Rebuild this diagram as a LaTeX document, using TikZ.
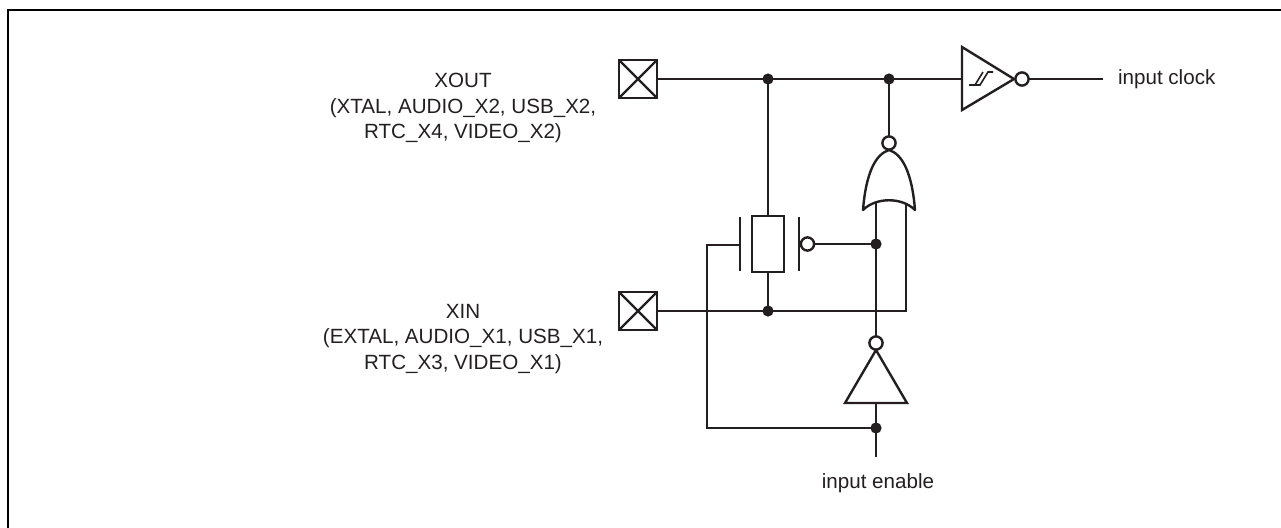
\documentclass[tikz,border=0pt]{standalone}
\usepackage{fontspec}
\setmainfont{Liberation Sans}
\usepackage{tikz}
\usetikzlibrary{positioning, calc}
\definecolor{wirecolor}{RGB}{35, 31, 32}

\tikzset{
    wire/.style={line width=1.2pt, draw=wirecolor, line join=miter},
    gatebody/.style={wire, fill=white, line join=round},
    pad/.style={draw=wirecolor, line width=1.2pt, minimum size=19pt, inner sep=0pt,
        path picture={\draw[wirecolor, line width=1.1pt]
            (path picture bounding box.north west) -- (path picture bounding box.south east)
            (path picture bounding box.south west) -- (path picture bounding box.north east);}},
    junction/.style={circle, fill=wirecolor, inner sep=0pt, minimum size=5.6pt},
    bubble/.style={circle, draw=wirecolor, fill=white, line width=1.2pt, inner sep=0pt, minimum size=6.6pt},
    pinlabel/.style={font=\fontsize{10.3}{12.6}\selectfont, text=wirecolor, align=center}
}

\begin{document}
\begin{tikzpicture}[x=0.5pt, y=-0.5pt]
    \useasboundingbox (0,0) rectangle (1281,527);

    % Frame
    \draw[line width=1.4pt] (8,540) -- (8,10) -- (1290,10);

    % Pads and labels
    \node[pad] (xout) at (638,79) {};
    \node[pad] (xin) at (638,311) {};
    \node[pinlabel] (xoutlbl) at (463,108) {XOUT\\(XTAL, AUDIO\_X2, USB\_X2,\\RTC\_X4, VIDEO\_X2)};
    \node[pinlabel] (xinlbl) at (463,339) {XIN\\(EXTAL, AUDIO\_X1, USB\_X1,\\RTC\_X3, VIDEO\_X1)};

    % Crystal
    \node[draw=wirecolor, line width=1.2pt, minimum width=16pt, minimum height=28pt, inner sep=0pt] (xtal) at (768,244) {};
    \draw[wire] (740,217) -- (740,271);
    \draw[wire] (799,217) -- (799,271);
    \coordinate (plate) at (740,245);

    % Junctions
    \node[junction] (jtopa) at (768,79) {};
    \node[junction] (jtopb) at (889,79) {};
    \node[junction] (jfb) at (876,244) {};
    \node[junction] (jxin) at (768,311) {};
    \node[junction] (jen) at (876,428) {};

    % Gate pins
    \coordinate (schin) at (962,79);
    \coordinate (clk) at (1103,79);
    \coordinate (norinl) at (876,200);
    \coordinate (norinr) at (906,200);
    \coordinate (xinr) at (906,311);
    \coordinate (invin) at (876,403);
    \coordinate (en) at (876,457);

    % Wires
    \draw[wire] (xout.east) -- (jtopa.center) -- (jtopb.center) -- (schin);
    \draw[wire] (jtopa.center) -- (xtal.north);
    \draw[wire] (xtal.south) -- (jxin.center);
    \draw[wire] (xin.east) -- (jxin.center) -- (xinr) -- (norinr);
    \draw[wire] (norinl) -- (jfb.center) -- (876,340);
    \draw[wire] (808,244) -- (jfb.center);
    \draw[wire] (plate) -- ++(-33,0) |- (jen.center);
    \draw[wire] (invin) -- (jen.center) -- (en);
    \draw[wire] (jtopb.center) -- (889,140);
    \draw[wire] (1022,79) -- (clk);

    % Schmitt inverter
    \draw[gatebody, line join=miter] (962,47) -- (1014,79) -- (962,110) -- cycle;
    \draw[wirecolor, line width=0.8pt] (969,85) -- (980,85) -- (988,72) -- (993,72);
    \draw[wirecolor, line width=0.8pt] (975,85) -- (983,72);
    \node[bubble] (schout) at (1022,79) {};

    % NOR gate
    \draw[gatebody] (863,210) .. controls (866,172) and (876,154) .. (889,150)
        .. controls (902,154) and (912,172) .. (915,210)
        .. controls (902,197) and (876,197) .. cycle;
    \node[bubble] (norout) at (889,143) {};

    % Enable inverter
    \draw[gatebody, line join=miter] (876,350) -- (907,403) -- (845,403) -- cycle;
    \node[bubble] (invout) at (876,343) {};

    % Feedback bubble
    \node[bubble] (fb) at (807.5,244) {};

    % Signal labels
    \node[pinlabel, anchor=west] (clklbl) at (1111,79) {input clock};
    \node[pinlabel] (enlbl) at (878,483) {input enable};
\end{tikzpicture}
\end{document}
